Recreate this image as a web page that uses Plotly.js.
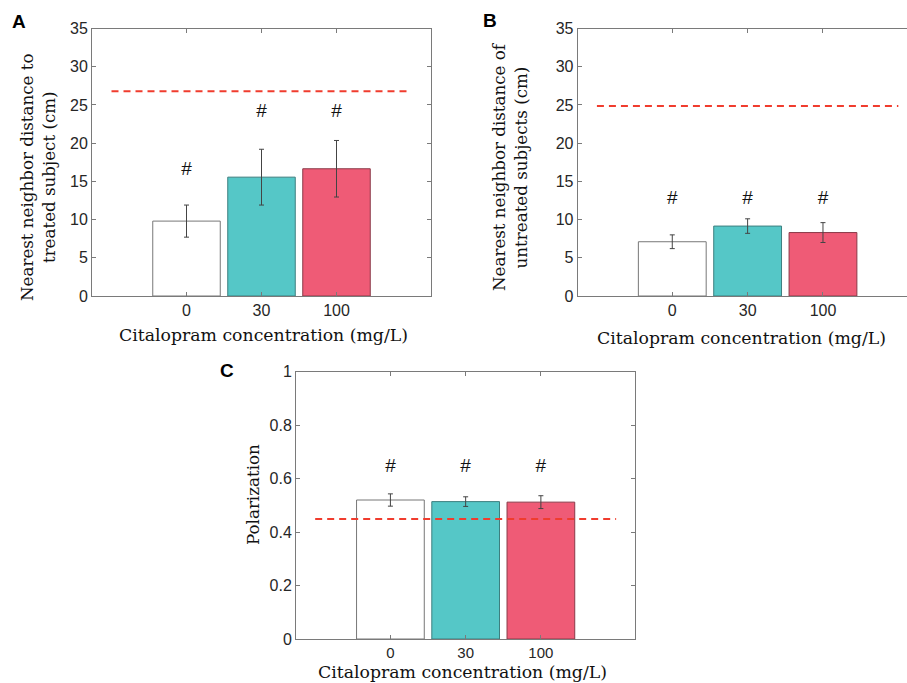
<!DOCTYPE html>
<html>
<head>
<meta charset="utf-8">
<script src="https://cdn.plot.ly/plotly-3.0.1.min.js"></script>
<style>html,body{margin:0;padding:0;background:#fff;overflow:hidden}</style>
</head>
<body>
<div id="chart" style="width:907px;height:683px"></div>
<script>
// ---- Data ----
const categories = ['0', '30', '100'];
const catPos = [1, 2, 3];
const barColors = ['#ffffff', '#55C7C7', '#EF5B76'];

const nndTreated = [9.8, 15.55, 16.65];
const nndTreatedErr = [2.1, 3.65, 3.7];
const nndTreatedRef = 26.8;
const nndTreatedHashY = [16.4, 24.1, 24.1];

const nndUntreated = [7.1, 9.15, 8.3];
const nndUntreatedErr = [0.9, 0.95, 1.3];
const nndUntreatedRef = 24.85;
const nndUntreatedHashY = [12.7, 12.7, 12.7];

const polarization = [0.52, 0.514, 0.512];
const polarizationErr = [0.023, 0.018, 0.024];
const polarizationRef = 0.449;
const polarizationHashY = [0.641, 0.641, 0.641];

const refLineX = [0, 4];

const xTitle = 'Citalopram concentration (mg/L)';
const yTitleA = 'Nearest neighbor distance to<br>treated subject (cm)';
const yTitleB = 'Nearest neighbor distance of<br>untreated subjects (cm)';
const yTitleC = 'Polarization';

// ---- Styles ----
const W = 907, H = 683;
const serif = 'DejaVu Serif, serif';
const sans = 'Liberation Sans, Arial, sans-serif';
const axisCol = '#7a7a7a';
const textCol = '#262626';

function barTrace(vals, errs, xa, ya) {
  return {
    type: 'bar', x: catPos, y: vals, width: 0.9,
    xaxis: xa, yaxis: ya,
    marker: { color: barColors, line: { color: ['#777', '#3d7f7f', '#8a3a48'], width: 1 } },
    error_y: { type: 'data', array: errs, visible: true, color: '#444', thickness: 1, width: 2.5 },
    hoverinfo: 'skip', showlegend: false
  };
}
function refTrace(v, xa, ya) {
  return {
    type: 'scatter', mode: 'lines', x: refLineX, y: [v, v],
    xaxis: xa, yaxis: ya,
    line: { color: '#F03C2E', width: 2, dash: '7px,5px' },
    hoverinfo: 'skip', showlegend: false
  };
}
function hashTrace(ys, xa, ya) {
  return {
    type: 'scatter', mode: 'text', x: catPos, y: ys, text: ['#', '#', '#'],
    xaxis: xa, yaxis: ya,
    textfont: { family: sans, size: 19, color: '#111' },
    hoverinfo: 'skip', showlegend: false
  };
}

const traces = [
  barTrace(nndTreated, nndTreatedErr, 'x', 'y'),
  refTrace(nndTreatedRef, 'x', 'y'),
  hashTrace(nndTreatedHashY, 'x', 'y'),
  barTrace(nndUntreated, nndUntreatedErr, 'x2', 'y2'),
  refTrace(nndUntreatedRef, 'x2', 'y2'),
  hashTrace(nndUntreatedHashY, 'x2', 'y2'),
  barTrace(polarization, polarizationErr, 'x3', 'y3'),
  refTrace(polarizationRef, 'x3', 'y3'),
  hashTrace(polarizationHashY, 'x3', 'y3')
];

function xAxis(domain, range, anchor, mirror, fs) {
  return {
    domain: domain, range: range, anchor: anchor,
    tickvals: catPos, ticktext: categories,
    ticks: 'inside', ticklen: 4, tickcolor: axisCol,
    showline: true, linecolor: axisCol, linewidth: 1, mirror: mirror,
    showgrid: false, zeroline: false, fixedrange: true,
    tickfont: { family: sans, size: fs || 16, color: textCol }
  };
}
function yAxis(domain, range, dtick, anchor, mirror) {
  return {
    domain: domain, range: range, anchor: anchor, dtick: dtick, tick0: 0,
    ticks: 'inside', ticklen: 4, tickcolor: axisCol,
    showline: true, linecolor: axisCol, linewidth: 1, mirror: mirror,
    showgrid: false, zeroline: false, fixedrange: true,
    tickfont: { family: sans, size: 16, color: textCol }
  };
}

const yDomTop = [1 - 296 / H, 1 - 28.5 / H];
const yDomC = [1 - 639 / H, 1 - 371.7 / H];

function ann(text, px, py, font, angle) {
  const a = { text: text, x: px / W, y: 1 - py / H, xref: 'paper', yref: 'paper',
    xanchor: 'center', yanchor: 'middle', showarrow: false, font: font };
  if (angle !== undefined) a.textangle = angle;
  return a;
}
const letterFont = { family: sans, size: 19, color: '#000', weight: 'bold' };
const yTitleFont = { family: serif, size: 16.7, color: '#111' };
const xTitleFont = { family: serif, size: 17.3, color: '#111' };

const layout = {
  width: W, height: H,
  margin: { l: 0, r: 0, t: 0, b: 0 },
  paper_bgcolor: '#fff', plot_bgcolor: '#fff',
  showlegend: false,
  xaxis: xAxis([92 / W, 431 / W], [-0.26, 4.26], 'y', 'ticks'),
  yaxis: yAxis(yDomTop, [0, 35], 5, 'x', 'ticks'),
  xaxis2: xAxis([577.7 / W, 1], [-0.255, 4.115], 'y2', 'ticks'),
  yaxis2: yAxis(yDomTop, [0, 35], 5, 'x2', false),
  xaxis3: xAxis([296 / W, 635.3 / W], [-0.255, 4.255], 'y3', 'ticks', 15),
  yaxis3: yAxis(yDomC, [0, 1], 0.2, 'x3', 'ticks'),
  annotations: [
    ann('A', 19, 22, letterFont),
    ann('B', 490, 20, letterFont),
    ann('C', 227, 370, letterFont),
    ann(yTitleA, 38, 177, yTitleFont, -90),
    ann(yTitleB, 510, 167, yTitleFont, -90),
    ann(yTitleC, 253, 495, yTitleFont, -90),
    ann(xTitle, 263, 335, xTitleFont),
    ann(xTitle, 741, 338, xTitleFont),
    ann(xTitle, 462, 671.5, xTitleFont)
  ]
};

Plotly.newPlot('chart', traces, layout, { staticPlot: true, displayModeBar: false });
</script>
</body>
</html>
